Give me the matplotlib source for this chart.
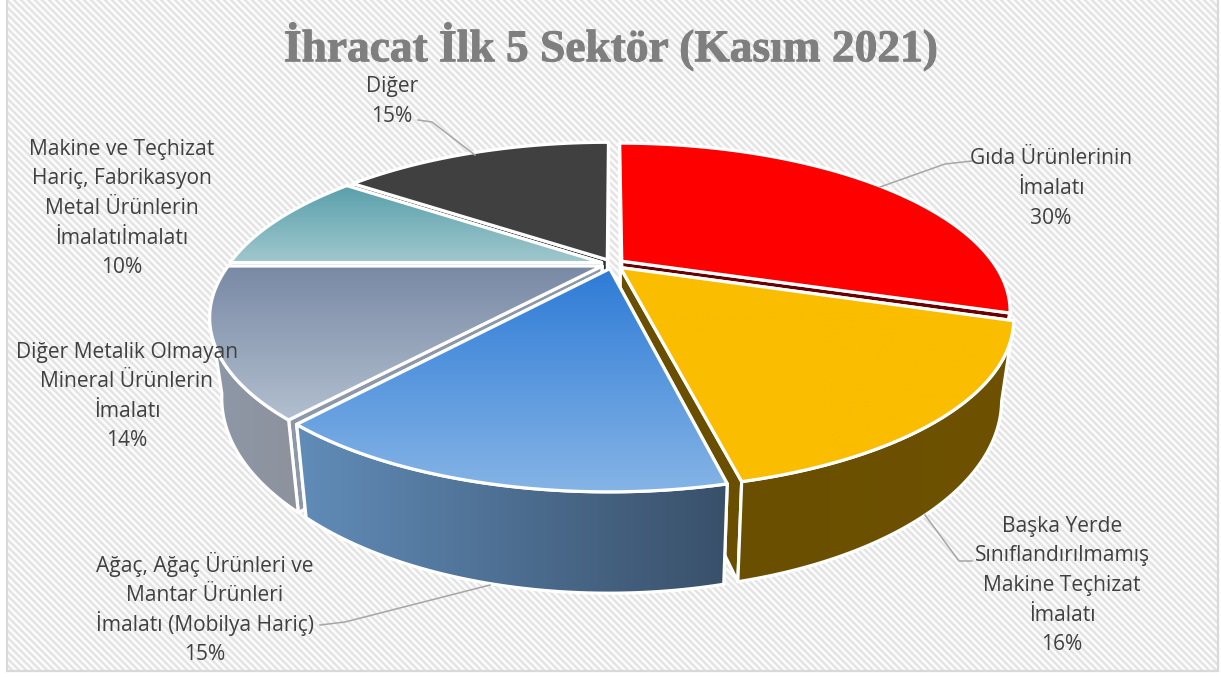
import numpy as np
import matplotlib
matplotlib.use("Agg")
import matplotlib.pyplot as plt
import matplotlib.patheffects as pe
from matplotlib.colors import to_rgb
from matplotlib.patches import Polygon, Rectangle

title = "İhracat İlk 5 Sektör (Kasım 2021)"
sectors = [
    "Gıda Ürünlerinin\nİmalatı",
    "Başka Yerde\nSınıflandırılmamış\nMakine Teçhizat\nİmalatı",
    "Ağaç, Ağaç Ürünleri ve\nMantar Ürünleri\nİmalatı (Mobilya Hariç)",
    "Diğer Metalik Olmayan\nMineral Ürünlerin\nİmalatı",
    "Makine ve Teçhizat\nHariç, Fabrikasyon\nMetal Ürünlerin\nİmalatıİmalatı",
    "Diğer",
]
# slice sizes, the labels show them rounded
values = [30.0, 16.4, 14.7, 13.9, 10.0, 15.0]

# top gradient (first, last) and side gradient (left, right)
top_colors = [("#FF0000", "#FF0000"), ("#FBBD00", "#FBBD00"), ("#2E7BD6", "#85B4E6"),
              ("#7A89A5", "#B2BFCF"), ("#5AA0AC", "#A0C8CD"), ("#404040", "#404040")]
side_colors = [("#6B0000", "#6B0000"), ("#6A4F00", "#6E5200"), ("#618CB8", "#39506A"),
               ("#8D98A8", "#8E929C"), ("#4A7C85", "#4A7C85"), ("#2A2A2A", "#2A2A2A")]
label_pos = [(1051, 187), (1062, 584), (205, 609), (127, 395), (122, 207), (392, 100)]
leaders = [[(972, 161), (945, 164), (880, 187)],
           [(972, 561), (959, 561), (925, 515)],
           [(320, 625), (345, 622), (490, 585)],
           [],
           [],
           [(418, 120), (432, 122), (475, 155)]]

# pie projection, in pixels
CX, CY = 612.5, 264
A, B, K = 384, 159, 0.303
EXPLODE = 0.03
RADIUS = 0.97
DEPTH, SX, SY = 74, 0.97, 1.12
WALL_FROM = 0.28  # outer wall only shows below this depth on the disc
LINE_PITCH = 29.6


def project(u, v):
    d = 1 - K * v
    return CX + A * u / d, CY + B * v / d


def lower(x, y):
    return CX + SX * (x - CX), CY + SY * (y - CY) + DEPTH


def gradient_fill(ax, pts, c0, c1, vertical, z):
    pts = np.asarray(pts)
    x0, y0 = pts.min(axis=0)
    x1, y1 = pts.max(axis=0)
    t = np.linspace(0, 1, 128)
    col = np.outer(1 - t, to_rgb(c0)) + np.outer(t, to_rgb(c1))
    img = col[:, None, :] if vertical else col[None, :, :]
    im = ax.imshow(img, extent=(x0, x1, y1, y0), aspect="auto", zorder=z, interpolation="bilinear")
    clip = Polygon(pts, closed=True, transform=ax.transData)
    im.set_clip_path(clip)
    ax.add_patch(Polygon(pts, closed=True, fc="none", ec="white", lw=2.3, zorder=z, joinstyle="round"))


def draw_wedge(ax, start, end, top, side, z):
    mid = np.radians((start + end) / 2)
    ou, ov = EXPLODE * np.sin(mid), -EXPLODE * np.cos(mid)
    th = np.radians(np.linspace(start, end, 120))
    apex = project(ou, ov)
    rx, ry = project(RADIUS * np.sin(th) + ou, -RADIUS * np.cos(th) + ov)
    low_apex = lower(*apex)
    low_rx, low_ry = lower(rx, ry)
    # the two cut walls, the one nearer the viewer last
    ends = [0, -1] if ry[0] < ry[-1] else [-1, 0]
    for step, e in enumerate(ends):
        cut = [apex, (rx[e], ry[e]), (low_rx[e], low_ry[e]), low_apex]
        gradient_fill(ax, cut, side[0], side[0], False, z + 0.1 * step)
    # outer wall, front part only
    show = -np.cos(th) > WALL_FROM
    if show.sum() > 1:
        wall = np.vstack([np.c_[rx, ry][show], np.c_[low_rx, low_ry][show][::-1]])
        gradient_fill(ax, wall, side[0], side[1], False, z + 0.2)
    # top face
    face = np.vstack([[apex], np.c_[rx, ry]])
    gradient_fill(ax, face, top[0], top[1], True, z + 0.3)


def main():
    fig = plt.figure(figsize=(12.21, 6.77), dpi=100)
    ax = fig.add_axes([0, 0, 1, 1])

    # diagonal stripes of the chart area
    yy, xx = np.mgrid[0:671, 7:1218]
    shade = 1 - 0.115 * (0.5 + 0.5 * np.cos(2 * np.pi * (xx - yy) / 7))
    ax.imshow(np.dstack([shade] * 3), extent=(7, 1218, 671, 0), aspect="auto", zorder=0,
              interpolation="nearest")
    ax.add_patch(Rectangle((7, -2), 1211, 673, fc="none", ec="#D9D9D9", lw=1.6, zorder=0.5))

    edges = np.cumsum([0] + values) / np.sum(values) * 360
    mids = (edges[:-1] + edges[1:]) / 2
    order = np.argsort(-np.cos(np.radians(mids)))
    for rank, i in enumerate(order):
        draw_wedge(ax, edges[i], edges[i + 1], top_colors[i], side_colors[i], 2 + rank)

    for line in leaders:
        if line:
            xs, ys = zip(*line)
            ax.plot(xs, ys, color="#A6A6A6", lw=1.1, zorder=20)

    for name, val, (x, y) in zip(sectors, values, label_pos):
        # one text per line, so descenders do not upset the spacing
        lines = f"{name}\n{round(val)}%".split("\n")
        for n, txt in enumerate(lines):
            base = y + (n - (len(lines) - 1) / 2) * LINE_PITCH + 7
            ax.text(x, base, txt, ha="center", va="baseline", fontsize=15.1,
                    family="Open Sans", color="#404040", zorder=21)

    ax.text(611, 47, title, ha="center", va="center", fontsize=32.7, fontweight="bold",
            family="Liberation Serif", color="#7F7F7F", zorder=21,
            path_effects=[pe.withStroke(linewidth=0.7, foreground="#7F7F7F")])

    ax.set_xlim(0, 1221)
    ax.set_ylim(677, 0)
    ax.axis("off")
    fig.savefig("out.png", dpi=100)


if __name__ == "__main__":
    main()
